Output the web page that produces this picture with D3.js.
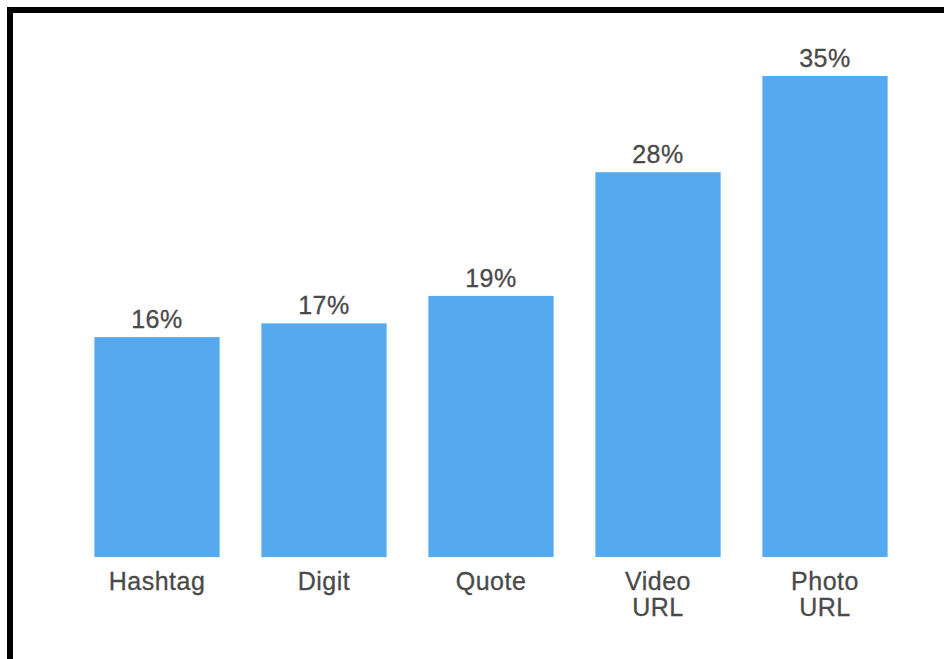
<!DOCTYPE html>
<html lang="en">
<head>
    <meta charset="UTF-8">
    <title>Tweet Features</title>
    <style>
        body {
            margin: 0;
            background: #fff;
            font-family: "Liberation Sans", Arial, sans-serif;
        }
        .bar {
            fill: #55a9ef;
        }
        .value, .cat {
            fill: #4a4a4a;
            font-size: 25px;
            letter-spacing: 0.5px;
            text-anchor: middle;
            stroke: #4a4a4a;
            stroke-width: 0.3px;
        }
    </style>
</head>
<body>
    <svg width="944" height="659"></svg>
    <script src="https://d3js.org/d3.v7.min.js"></script>
    <script>
        const width = 944;
        const height = 659;

        // chart data
        const categories = ["Hashtag", "Digit", "Quote", "Video URL", "Photo URL"];
        const labelLines = [["Hashtag"], ["Digit"], ["Quote"], ["Video", "URL"], ["Photo", "URL"]];
        const values = [16, 17, 19, 28, 35];

        const svg = d3.select("svg");

        // frame (right and bottom edges fall outside the picture)
        svg.append("rect")
            .attr("x", 10)
            .attr("y", 10)
            .attr("width", 960)
            .attr("height", 680)
            .attr("fill", "none")
            .attr("stroke", "#000")
            .attr("stroke-width", 6);

        const x = d3.scaleBand()
            .domain(categories)
            .range([73.5, 908.5])
            .paddingInner(0.25)
            .paddingOuter(0.125);

        const y = d3.scaleLinear()
            .domain([0, 35])
            .range([557, 76]);

        const g = svg.append("g");

        g.selectAll(".bar")
            .data(values)
            .join("rect")
            .attr("class", "bar")
            .attr("x", (d, i) => x(categories[i]))
            .attr("width", x.bandwidth())
            .attr("y", d => y(d))
            .attr("height", d => y(0) - y(d));

        g.selectAll(".value")
            .data(values)
            .join("text")
            .attr("class", "value")
            .attr("x", (d, i) => x(categories[i]) + x.bandwidth() / 2)
            .attr("y", d => y(d) - 9)
            .text(d => d + "%");

        const cats = g.selectAll(".cat")
            .data(labelLines)
            .join("text")
            .attr("class", "cat")
            .attr("x", (d, i) => x(categories[i]) + x.bandwidth() / 2)
            .attr("y", y(0) + 33);

        cats.selectAll("tspan")
            .data(d => d)
            .join("tspan")
            .attr("x", function () { return this.parentNode.getAttribute("x"); })
            .attr("dy", (d, i) => i === 0 ? 0 : 26)
            .text(d => d);
    </script>
</body>
</html>
